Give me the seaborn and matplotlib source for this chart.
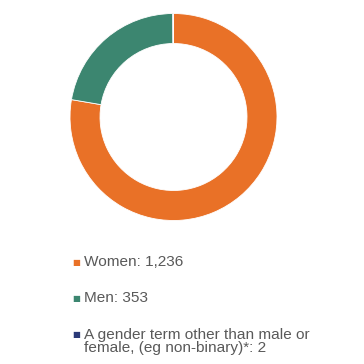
import matplotlib
matplotlib.use("Agg")
import matplotlib.pyplot as plt
import seaborn as sns

# Data
labels = ["Women: 1,236", "Men: 353",
          "A gender term other than male or\nfemale, (eg non-binary)*: 2"]
counts = [1236, 353, 2]
colours = ["#E97127", "#3C8670", "#2B3A78"]

sns.set_theme(style="white")
plt.rcParams["font.family"] = ["Liberation Sans", "DejaVu Sans"]
palette = sns.color_palette(colours)

fig = plt.figure(figsize=(3.64, 3.64), dpi=100)

# donut: centre (173.5, 117) px, outer radius 103.5 px
W = H = 364
cx, cy, r = 173.5, 117, 103.5
ax = fig.add_axes([(cx - r) / W, 1 - (cy + r) / H, 2 * r / W, 2 * r / H])
ax.pie(counts, colors=palette, startangle=90, counterclock=False,
       wedgeprops=dict(width=0.29, edgecolor="white", linewidth=0.6))
ax.set_xlim(-1, 1)
ax.set_ylim(-1, 1)
ax.set_aspect("equal")
ax.axis("off")

# legend below the donut
text_col = "#595959"
row_y = [263, 299, 335]
for lab, col, y in zip(labels, palette, row_y):
    fig.text(72 / W, 1 - y / H, "\u25A0", color=col, fontsize=6,
             va="center", ha="left", family="DejaVu Sans")
    fig.text(84 / W, 1 - (y - 7.5) / H, lab, color=text_col, fontsize=11.1,
             va="top", ha="left", linespacing=0.92)

fig.savefig("out.png", dpi=100)
